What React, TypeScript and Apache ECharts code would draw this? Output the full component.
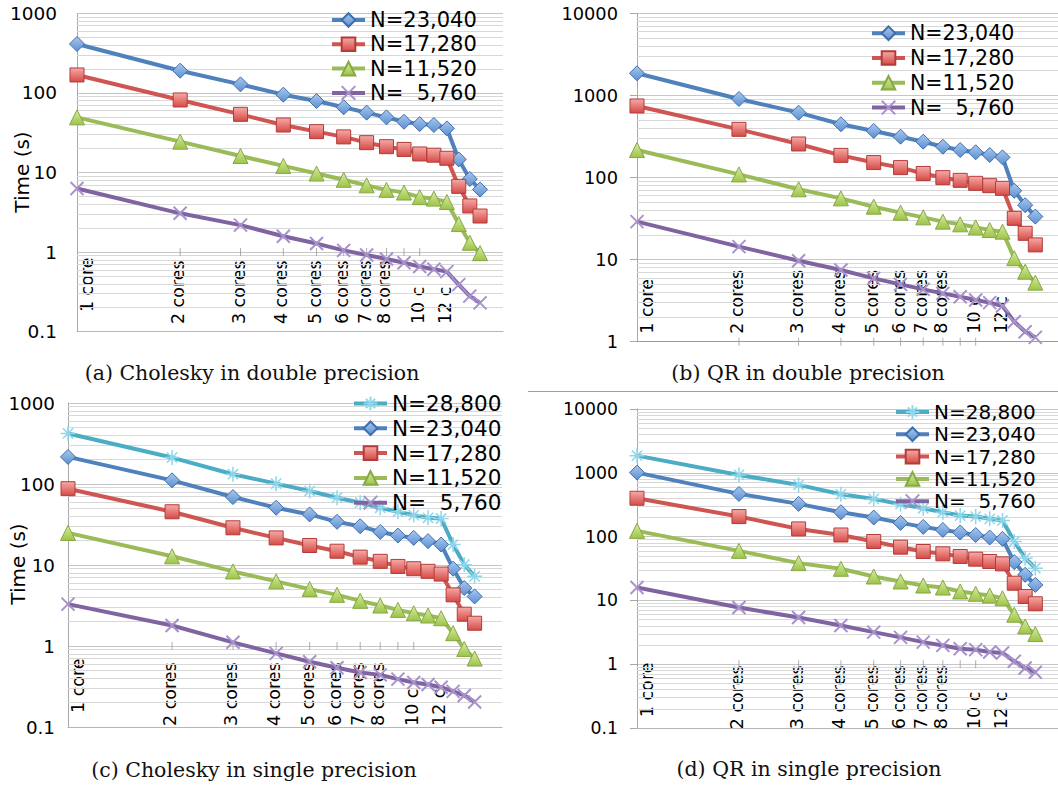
import React, { useEffect, useRef } from "react";
import * as echarts from "echarts";

// ---------- data ----------
const cores = [1, 2, 3, 4, 5, 6, 7, 8, 9, 10, 11, 12, 13, 14, 15];
const tickCores = [2, 3, 4, 5, 6, 7, 8, 9, 10];
const coreLabelTexts = ["1 core", "2 cores", "3 cores", "4 cores", "5 cores", "6 cores", "7 cores", "8 cores", "10 c", "12 c"];
const coreLabelAt = [1, 2, 3, 4, 5, 6, 7, 8, 10, 12];

const seriesNames = ["N=28,800", "N=23,040", "N=17,280", "N=11,520", "N=  5,760"];

// (a) Cholesky double
const a23040 = [412, 190, 128, 95, 79, 66, 56.5, 49.3, 43.4, 40.6, 39.5, 35.8, 14.6, 8.3, 6.1];
const a17280 = [168, 81.5, 53.8, 39.5, 32.6, 28, 23.7, 21.1, 19.5, 17.1, 16.5, 15.1, 6.7, 3.8, 2.84];
const a11520 = [49.3, 24.4, 16.1, 12.1, 9.7, 8.1, 6.9, 6.05, 5.6, 4.9, 4.7, 4.26, 2.25, 1.31, 0.97];
const a5760 = [6.3, 3.07, 2.18, 1.58, 1.28, 1.05, 0.92, 0.82, 0.735, 0.658, 0.608, 0.568, 0.39, 0.28, 0.23];

// (b) QR double
const b23040 = [1858, 904, 616, 445, 369, 314, 273, 237, 216, 203, 188, 176, 69, 46, 33.4];
const b17280 = [743, 386, 256, 186, 152, 132, 112, 99.6, 92.3, 84.9, 79.5, 73.8, 31.8, 20.9, 15.1];
const b11520 = [216, 109, 71.8, 55.7, 44.1, 37.3, 32.7, 29, 26.9, 24.7, 22.9, 21.9, 10.4, 7.12, 5.24];
const b5760 = [29, 14.4, 9.7, 7.47, 5.91, 4.99, 4.34, 3.88, 3.53, 3.22, 2.99, 2.72, 1.75, 1.32, 1.13];

// (c) Cholesky single
const c28800 = [421, 212, 132, 101, 81.9, 67.7, 58.7, 50.9, 45.4, 41.3, 38.3, 37.5, 17.9, 10.1, 7.24];
const c23040 = [216, 111, 69, 50.9, 42.1, 34.1, 30.1, 25.6, 23.1, 21.6, 19.7, 17.9, 9.0, 5.19, 4.09];
const c17280 = [87.5, 45.4, 28.8, 21.6, 17.4, 14.8, 12.5, 11.1, 9.6, 9.0, 8.35, 7.73, 4.28, 2.47, 1.91];
const c11520 = [24.9, 12.8, 8.33, 6.28, 5.04, 4.28, 3.61, 3.16, 2.79, 2.54, 2.38, 2.2, 1.44, 0.92, 0.7];
const c5760 = [3.29, 1.79, 1.11, 0.81, 0.64, 0.54, 0.47, 0.44, 0.39, 0.355, 0.335, 0.31, 0.275, 0.245, 0.204];

// (d) QR single
const d28800 = [1858, 926, 646, 461, 390, 322, 278, 241, 214, 206, 190, 179, 83.8, 45.9, 32];
const d23040 = [1007, 467, 326, 241, 199, 164, 142, 127, 116, 106, 96.7, 92.2, 39.7, 25.2, 17.5];
const d17280 = [399, 206, 132, 106, 83.8, 68.3, 58.4, 53.7, 48.8, 44.3, 40.7, 37.4, 18.6, 11.5, 8.85];
const d11520 = [123, 59.8, 38.4, 31.3, 23.7, 19.8, 17.1, 15.9, 13.8, 12.7, 11.9, 10.8, 5.96, 3.91, 2.97];
const d5760 = [15.9, 7.74, 5.4, 4.05, 3.18, 2.63, 2.22, 1.97, 1.75, 1.69, 1.55, 1.5, 1.11, 0.87, 0.75];

const captions = [
  "(a) Cholesky in double precision",
  "(b) QR in double precision",
  "(c) Cholesky in single precision",
  "(d) QR in single precision",
];

// ---------- styles ----------
const SANS = "DejaVu Sans";
const SERIF = "DejaVu Serif";

const grad = (top: string, bottom: string) => ({
  type: "linear",
  x: 0,
  y: 0,
  x2: 0,
  y2: 1,
  colorStops: [
    { offset: 0, color: top },
    { offset: 1, color: bottom },
  ],
});

const seriesStyle: Record<string, any> = {
  "N=28,800": {
    line: "#4bacc6",
    symbol: "path://M5,0L5,10M0,5L10,5M1.6,1.6L8.4,8.4M8.4,1.6L1.6,8.4",
    size: 15,
    fill: "#4bacc6",
    border: "#8fd6ea",
    bw: 1.5,
  },
  "N=23,040": {
    line: "#4f81bd",
    symbol: "diamond",
    size: 15,
    fill: grad("#a9c8ee", "#5b8fd2"),
    border: "#3f6eab",
    bw: 1,
  },
  "N=17,280": {
    line: "#cf5552",
    symbol: "rect",
    size: 14,
    fill: grad("#f6aaa7", "#d54a46"),
    border: "#b23c39",
    bw: 1,
  },
  "N=11,520": {
    line: "#9bbb59",
    symbol: "triangle",
    size: 15,
    fill: grad("#d9eca6", "#9cc446"),
    border: "#86a845",
    bw: 1,
  },
  "N=  5,760": {
    line: "#8064a2",
    symbol: "path://M0,0L10,10M10,0L0,10",
    size: 13,
    fill: "#8064a2",
    border: "#a892cc",
    bw: 2,
  },
};

type Panel = {
  grid: { left: number; top: number; width: number; height: number };
  yMin: number;
  yMax: number;
  xMax: number;
  names: string[];
  data: number[][];
  legend: { left: number; top: number; fontSize: number; gap: number };
  yFont: number;
  yMargin: number;
  yTicks: boolean;
  axisColor: string;
  labelBottom: number;
  oneCoreBottom: number;
  timeLabel: null | { x: number; y: number };
  cap: { x: number; y: number };
};

const panels: Panel[] = [
  {
    grid: { left: 77, top: 13.3, width: 426, height: 318.4 },
    yMin: 0.1,
    yMax: 1000,
    xMax: 17.5,
    names: ["N=23,040", "N=17,280", "N=11,520", "N=  5,760"],
    data: [a23040, a17280, a11520, a5760],
    legend: { left: 330, top: 9.5, fontSize: 21, gap: 3.3 },
    yFont: 18.5,
    yMargin: 20,
    yTicks: false,
    axisColor: "#b5b5b5",
    labelBottom: 72,
    oneCoreBottom: 60,
    timeLabel: { x: 22, y: 172 },
    cap: { x: 252, y: 373 },
  },
  {
    grid: { left: 637, top: 13.3, width: 425, height: 328.4 },
    yMin: 1,
    yMax: 10000,
    xMax: 17.5,
    names: ["N=23,040", "N=17,280", "N=11,520", "N=  5,760"],
    data: [b23040, b17280, b11520, b5760],
    legend: { left: 870, top: 22.7, fontSize: 20.5, gap: 3.8 },
    yFont: 17.8,
    yMargin: 19,
    yTicks: true,
    axisColor: "#9a9a9a",
    labelBottom: -8,
    oneCoreBottom: -8,
    timeLabel: null,
    cap: { x: 808, y: 373 },
  },
  {
    grid: { left: 68, top: 403, width: 434, height: 324 },
    yMin: 0.1,
    yMax: 1000,
    xMax: 18,
    names: ["N=28,800", "N=23,040", "N=17,280", "N=11,520", "N=  5,760"],
    data: [c28800, c23040, c17280, c11520, c5760],
    legend: { left: 352, top: 392.5, fontSize: 21.5, gap: 2.8 },
    yFont: 18.3,
    yMargin: 13,
    yTicks: false,
    axisColor: "#b5b5b5",
    labelBottom: 80,
    oneCoreBottom: 67,
    timeLabel: { x: 18, y: 564 },
    cap: { x: 254, y: 770 },
  },
  {
    grid: { left: 637, top: 409, width: 421, height: 319 },
    yMin: 0.1,
    yMax: 10000,
    xMax: 17.5,
    names: ["N=28,800", "N=23,040", "N=17,280", "N=11,520", "N=  5,760"],
    data: [d28800, d23040, d17280, d11520, d5760],
    legend: { left: 894, top: 402, fontSize: 20, gap: 2.3 },
    yFont: 17.3,
    yMargin: 19,
    yTicks: true,
    axisColor: "#b5b5b5",
    labelBottom: 65,
    oneCoreBottom: 53,
    timeLabel: null,
    cap: { x: 809, y: 769 },
  },
];

function minorValues(min: number, max: number): number[] {
  const out: number[] = [];
  const lo = Math.round(Math.log10(min));
  const hi = Math.round(Math.log10(max));
  for (let e = lo; e < hi; e++) {
    for (let m = 2; m <= 9; m++) out.push(+(m * Math.pow(10, e)).toPrecision(6));
  }
  return out;
}

function buildOption() {
  const grid: any[] = [];
  const xAxis: any[] = [];
  const yAxis: any[] = [];
  const legend: any[] = [];
  const series: any[] = [];

  panels.forEach((p, i) => {
    grid.push({ ...p.grid, containLabel: false });
    xAxis.push({
      type: "log",
      logBase: 2,
      gridIndex: i,
      min: 1,
      max: p.xMax,
      axisLine: { show: true, onZero: false, lineStyle: { color: p.axisColor, width: 1 } },
      axisTick: { show: false },
      axisLabel: { show: false },
      splitLine: { show: false },
    });
    yAxis.push({
      type: "log",
      logBase: 10,
      gridIndex: i,
      min: p.yMin,
      max: p.yMax,
      axisLine: { show: true, lineStyle: { color: "#a8a8a8", width: 1 } },
      axisTick: { show: p.yTicks, length: 7, lineStyle: { color: "#a8a8a8" } },
      axisLabel: {
        fontFamily: SANS,
        fontSize: p.yFont,
        color: "#000",
        margin: p.yMargin,
        formatter: (v: number) => String(+Number(v).toPrecision(6)),
      },
      splitLine: { show: true, lineStyle: { color: "#c6c6c6", width: 1 } },
    });
    legend.push({
      data: p.names,
      orient: "vertical",
      left: p.legend.left,
      top: p.legend.top,
      padding: 0,
      itemWidth: 33,
      itemHeight: 17,
      itemGap: p.legend.gap,
      selectedMode: false,
      textStyle: { fontFamily: SANS, fontSize: p.legend.fontSize, color: "#000" },
      lineStyle: { width: 4 },
    });

    // axis ticks at y = 1 plus minor gridlines
    series.push({
      type: "scatter",
      name: "ticks" + i,
      xAxisIndex: i,
      yAxisIndex: i,
      silent: true,
      z: 1,
      symbol: "rect",
      symbolSize: [1, 8],
      itemStyle: { color: "#9a9a9a" },
      data: tickCores.map((c) => [c, 1]),
      markLine: {
        silent: true,
        z: 1,
        symbol: ["none", "none"],
        label: { show: false },
        lineStyle: { color: "#d8d8d8", width: 1, type: "solid" },
        data: minorValues(p.yMin, p.yMax).map((v) => ({ yAxis: v })),
      },
    });

    p.names.forEach((name, k) => {
      const st = seriesStyle[name];
      series.push({
        type: "line",
        name,
        xAxisIndex: i,
        yAxisIndex: i,
        z: 2,
        data: cores.map((c, j) => [c, p.data[k][j]]),
        symbol: st.symbol,
        symbolSize: st.size,
        showAllSymbol: true,
        lineStyle: { color: st.line, width: 4 },
        itemStyle: { color: st.fill, borderColor: st.border, borderWidth: st.bw },
        emphasis: { disabled: true },
      });
    });
  });

  return {
    animation: false,
    backgroundColor: "#fff",
    grid,
    xAxis,
    yAxis,
    legend,
    series,
  };
}

function buildGraphics(chart: any) {
  const els: any[] = [];
  panels.forEach((p, i) => {
    const base = chart.convertToPixel({ gridIndex: i }, [1, 1]);
    const py1 = base[1];
    coreLabelAt.forEach((c, k) => {
      const pt = chart.convertToPixel({ gridIndex: i }, [c, 1]);
      const isOne = k === 0;
      els.push({
        type: "text",
        x: isOne ? pt[0] + 10 : pt[0] - 2,
        y: py1 + (isOne ? p.oneCoreBottom : p.labelBottom),
        rotation: Math.PI / 2,
        silent: true,
        style: {
          text: coreLabelTexts[k],
          fontFamily: SANS,
          fontSize: 17.5,
          fill: "#000",
          align: "left",
          textAlign: "left",
          verticalAlign: "middle",
          textVerticalAlign: "middle",
        },
      });
    });
    if (p.timeLabel) {
      els.push({
        type: "text",
        x: p.timeLabel.x,
        y: p.timeLabel.y,
        rotation: Math.PI / 2,
        silent: true,
        style: {
          text: "Time (s)",
          fontFamily: SANS,
          fontSize: 20,
          fill: "#000",
          align: "center",
          textAlign: "center",
          verticalAlign: "middle",
          textVerticalAlign: "middle",
        },
      });
    }
    els.push({
      type: "text",
      x: p.cap.x,
      y: p.cap.y,
      silent: true,
      style: {
        text: captions[i],
        fontFamily: SERIF,
        fontSize: 20.5,
        fill: "#111",
        align: "center",
        textAlign: "center",
        verticalAlign: "middle",
        textVerticalAlign: "middle",
      },
    });
  });
  els.push({
    type: "line",
    silent: true,
    shape: { x1: 528, y1: 391.5, x2: 1058, y2: 391.5 },
    style: { stroke: "#a0a0a0", lineWidth: 1 },
  });
  return els;
}

export default function App() {
  const ref = useRef<HTMLDivElement>(null);
  useEffect(() => {
    const el = ref.current;
    if (!el) return;
    const chart = echarts.init(el, null, { renderer: "svg" });
    chart.setOption(buildOption());
    chart.setOption({ graphic: { elements: buildGraphics(chart) } });
    return () => chart.dispose();
  }, []);
  return (
    <div
      ref={ref}
      style={{ position: "absolute", left: 0, top: 0, width: 1058, height: 785, background: "#fff" }}
    />
  );
}
